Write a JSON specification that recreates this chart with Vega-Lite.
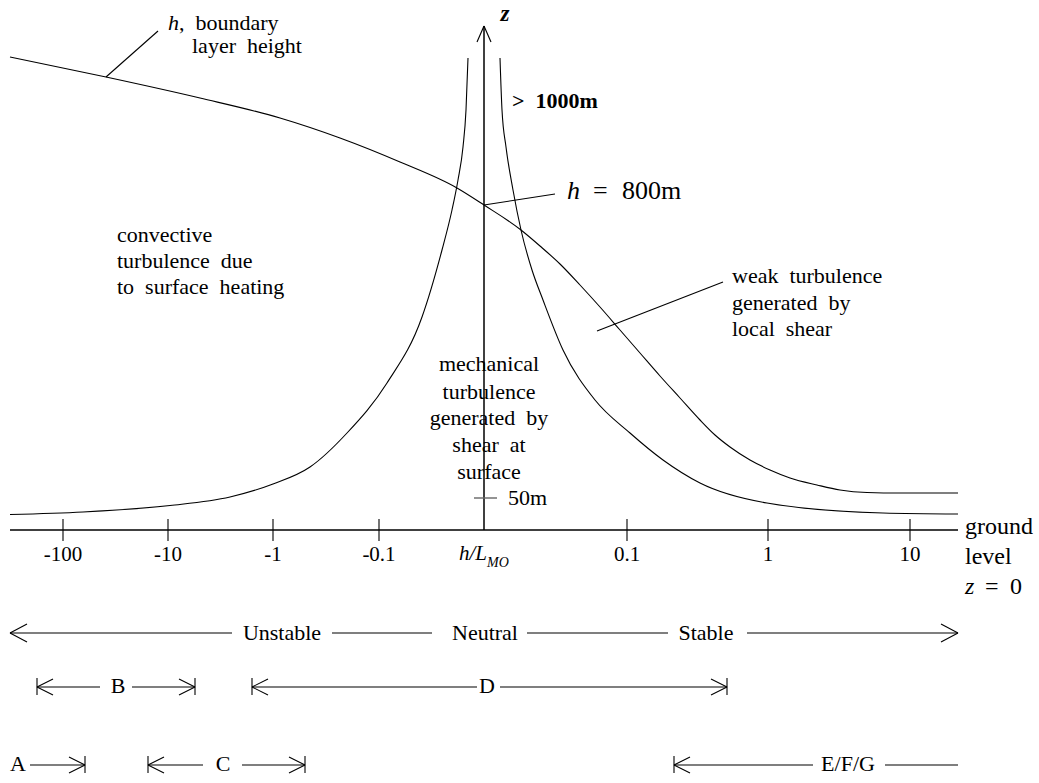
{
  "$schema": "https://vega.github.io/schema/vega-lite/v6.json",
  "width": 1039,
  "height": 783,
  "autosize": {"type": "fit", "contains": "padding"},
  "padding": 0,
  "background": "white",
  "config": {"view": {"stroke": null}},
  "datasets": {
    "curves": [
      {"id": "L", "o": 1, "x": 1.0, "y": 1.55},
      {"id": "L", "o": 2, "x": 8.3, "y": 1.8},
      {"id": "L", "o": 3, "x": 17.0, "y": 2.45},
      {"id": "L", "o": 4, "x": 23.0, "y": 3.3},
      {"id": "L", "o": 5, "x": 27.3, "y": 4.6},
      {"id": "L", "o": 6, "x": 31.0, "y": 6.3},
      {"id": "L", "o": 7, "x": 34.7, "y": 9.7},
      {"id": "L", "o": 8, "x": 38.7, "y": 14.7},
      {"id": "L", "o": 9, "x": 42.2, "y": 21.3},
      {"id": "L", "o": 10, "x": 44.2, "y": 28.0},
      {"id": "L", "o": 11, "x": 45.2, "y": 32.0},
      {"id": "L", "o": 12, "x": 45.8, "y": 35.0},
      {"id": "L", "o": 13, "x": 46.3, "y": 38.3},
      {"id": "L", "o": 14, "x": 46.6, "y": 42.0},
      {"id": "L", "o": 15, "x": 46.8, "y": 47.2},
      {"id": "R", "o": 1, "x": 50.0, "y": 47.2},
      {"id": "R", "o": 2, "x": 50.2, "y": 42.0},
      {"id": "R", "o": 3, "x": 50.6, "y": 38.3},
      {"id": "R", "o": 4, "x": 51.3, "y": 34.0},
      {"id": "R", "o": 5, "x": 52.1, "y": 30.0},
      {"id": "R", "o": 6, "x": 53.2, "y": 26.0},
      {"id": "R", "o": 7, "x": 54.3, "y": 23.0},
      {"id": "R", "o": 8, "x": 56.3, "y": 18.0},
      {"id": "R", "o": 9, "x": 59.5, "y": 13.0},
      {"id": "R", "o": 10, "x": 63.0, "y": 9.7},
      {"id": "R", "o": 11, "x": 66.3, "y": 7.0},
      {"id": "R", "o": 12, "x": 70.0, "y": 4.7},
      {"id": "R", "o": 13, "x": 76.7, "y": 2.7},
      {"id": "R", "o": 14, "x": 88.3, "y": 1.7},
      {"id": "R", "o": 15, "x": 95.8, "y": 1.6},
      {"id": "H", "o": 1, "x": 1.0, "y": 47.3},
      {"id": "H", "o": 2, "x": 10.6, "y": 45.3},
      {"id": "H", "o": 3, "x": 20.0, "y": 43.2},
      {"id": "H", "o": 4, "x": 28.0, "y": 41.2},
      {"id": "H", "o": 5, "x": 34.0, "y": 39.2},
      {"id": "H", "o": 6, "x": 40.0, "y": 36.8},
      {"id": "H", "o": 7, "x": 45.7, "y": 34.2},
      {"id": "H", "o": 8, "x": 48.4, "y": 32.5},
      {"id": "H", "o": 9, "x": 52.1, "y": 30.0},
      {"id": "H", "o": 10, "x": 54.0, "y": 28.4},
      {"id": "H", "o": 11, "x": 56.0, "y": 26.6},
      {"id": "H", "o": 12, "x": 58.0, "y": 24.5},
      {"id": "H", "o": 13, "x": 60.0, "y": 22.3},
      {"id": "H", "o": 14, "x": 62.0, "y": 20.0},
      {"id": "H", "o": 15, "x": 64.0, "y": 17.7},
      {"id": "H", "o": 16, "x": 66.0, "y": 15.4},
      {"id": "H", "o": 17, "x": 68.0, "y": 13.2},
      {"id": "H", "o": 18, "x": 70.0, "y": 11.0},
      {"id": "H", "o": 19, "x": 71.5, "y": 9.5},
      {"id": "H", "o": 20, "x": 73.0, "y": 8.3},
      {"id": "H", "o": 21, "x": 75.0, "y": 7.0},
      {"id": "H", "o": 22, "x": 77.0, "y": 6.0},
      {"id": "H", "o": 23, "x": 79.0, "y": 5.2},
      {"id": "H", "o": 24, "x": 81.7, "y": 4.5},
      {"id": "H", "o": 25, "x": 84.0, "y": 4.0},
      {"id": "H", "o": 26, "x": 86.7, "y": 3.75},
      {"id": "H", "o": 27, "x": 90.0, "y": 3.7},
      {"id": "H", "o": 28, "x": 95.8, "y": 3.7}
    ],
    "segs": [
      {"k": "ax", "x": 1.0, "y": 0, "x2": 95.8, "y2": 0},
      {"k": "ax", "x": 48.4, "y": 0, "x2": 48.4, "y2": 50.4},
      {"k": "ln", "x": 47.7, "y": 48.8, "x2": 48.4, "y2": 50.4},
      {"k": "ln", "x": 49.1, "y": 48.8, "x2": 48.4, "y2": 50.4},
      {"k": "ln", "x": 6.3, "y": 1.1, "x2": 6.3, "y2": -1.1},
      {"k": "ln", "x": 16.8, "y": 1.1, "x2": 16.8, "y2": -1.1},
      {"k": "ln", "x": 27.3, "y": 1.1, "x2": 27.3, "y2": -1.1},
      {"k": "ln", "x": 37.9, "y": 1.1, "x2": 37.9, "y2": -1.1},
      {"k": "ln", "x": 62.7, "y": 1.1, "x2": 62.7, "y2": -1.1},
      {"k": "ln", "x": 76.8, "y": 1.1, "x2": 76.8, "y2": -1.1},
      {"k": "ln", "x": 91.0, "y": 1.1, "x2": 91.0, "y2": -1.1},
      {"k": "ln", "x": 10.6, "y": 45.3, "x2": 15.8, "y2": 49.9},
      {"k": "ln", "x": 48.4, "y": 32.5, "x2": 55.5, "y2": 33.6},
      {"k": "ln", "x": 59.7, "y": 19.9, "x2": 72.3, "y2": 24.8},
      {"k": "gr", "x": 47.4, "y": 3.2, "x2": 49.7, "y2": 3.2},
      {"k": "ln", "x": 1.0, "y": -10.3, "x2": 23.2, "y2": -10.3},
      {"k": "ln", "x": 33.2, "y": -10.3, "x2": 43.2, "y2": -10.3},
      {"k": "ln", "x": 52.7, "y": -10.3, "x2": 66.8, "y2": -10.3},
      {"k": "ln", "x": 74.7, "y": -10.3, "x2": 95.8, "y2": -10.3},
      {"k": "ln", "x": 1.0, "y": -10.3, "x2": 2.7, "y2": -9.4},
      {"k": "ln", "x": 1.0, "y": -10.3, "x2": 2.7, "y2": -11.2},
      {"k": "ln", "x": 95.8, "y": -10.3, "x2": 94.1, "y2": -9.4},
      {"k": "ln", "x": 95.8, "y": -10.3, "x2": 94.1, "y2": -11.2},
      {"k": "ln", "x": 3.7, "y": -14.8, "x2": 3.7, "y2": -16.5},
      {"k": "ln", "x": 3.7, "y": -15.7, "x2": 10.0, "y2": -15.7},
      {"k": "ln", "x": 3.7, "y": -15.7, "x2": 5.3, "y2": -14.9},
      {"k": "ln", "x": 3.7, "y": -15.7, "x2": 5.3, "y2": -16.5},
      {"k": "ln", "x": 13.2, "y": -15.7, "x2": 19.5, "y2": -15.7},
      {"k": "ln", "x": 19.5, "y": -15.7, "x2": 17.9, "y2": -14.9},
      {"k": "ln", "x": 19.5, "y": -15.7, "x2": 17.9, "y2": -16.5},
      {"k": "ln", "x": 19.5, "y": -14.8, "x2": 19.5, "y2": -16.5},
      {"k": "ln", "x": 25.2, "y": -14.8, "x2": 25.2, "y2": -16.5},
      {"k": "ln", "x": 25.2, "y": -15.7, "x2": 47.7, "y2": -15.7},
      {"k": "ln", "x": 25.2, "y": -15.7, "x2": 26.8, "y2": -14.9},
      {"k": "ln", "x": 25.2, "y": -15.7, "x2": 26.8, "y2": -16.5},
      {"k": "ln", "x": 50.0, "y": -15.7, "x2": 72.7, "y2": -15.7},
      {"k": "ln", "x": 72.7, "y": -15.7, "x2": 71.1, "y2": -14.9},
      {"k": "ln", "x": 72.7, "y": -15.7, "x2": 71.1, "y2": -16.5},
      {"k": "ln", "x": 72.7, "y": -14.8, "x2": 72.7, "y2": -16.5},
      {"k": "ln", "x": 3.0, "y": -23.5, "x2": 8.5, "y2": -23.5},
      {"k": "ln", "x": 8.5, "y": -23.5, "x2": 6.9, "y2": -22.7},
      {"k": "ln", "x": 8.5, "y": -23.5, "x2": 6.9, "y2": -24.3},
      {"k": "ln", "x": 8.5, "y": -22.6, "x2": 8.5, "y2": -24.3},
      {"k": "ln", "x": 14.8, "y": -22.6, "x2": 14.8, "y2": -24.3},
      {"k": "ln", "x": 14.8, "y": -23.5, "x2": 20.3, "y2": -23.5},
      {"k": "ln", "x": 14.8, "y": -23.5, "x2": 16.4, "y2": -22.7},
      {"k": "ln", "x": 14.8, "y": -23.5, "x2": 16.4, "y2": -24.3},
      {"k": "ln", "x": 24.2, "y": -23.5, "x2": 30.5, "y2": -23.5},
      {"k": "ln", "x": 30.5, "y": -23.5, "x2": 28.9, "y2": -22.7},
      {"k": "ln", "x": 30.5, "y": -23.5, "x2": 28.9, "y2": -24.3},
      {"k": "ln", "x": 30.5, "y": -22.6, "x2": 30.5, "y2": -24.3},
      {"k": "ln", "x": 67.4, "y": -22.6, "x2": 67.4, "y2": -24.3},
      {"k": "ln", "x": 67.4, "y": -23.5, "x2": 81.3, "y2": -23.5},
      {"k": "ln", "x": 67.4, "y": -23.5, "x2": 69.0, "y2": -22.7},
      {"k": "ln", "x": 67.4, "y": -23.5, "x2": 69.0, "y2": -24.3},
      {"k": "ln", "x": 88.5, "y": -23.5, "x2": 95.8, "y2": -23.5}
    ],
    "labels": [
      {"r": "noteI", "t": "h", "x": 16.8, "y": 50.7},
      {"r": "note", "t": ",\u00a0\u00a0boundary", "x": 17.9, "y": 50.7},
      {"r": "note", "t": "layer\u00a0\u00a0height", "x": 19.2, "y": 48.4},
      {"r": "note", "t": "convective", "x": 11.7, "y": 29.5},
      {"r": "note", "t": "turbulence\u00a0\u00a0due", "x": 11.7, "y": 26.9},
      {"r": "note", "t": "to\u00a0\u00a0surface\u00a0\u00a0heating", "x": 11.7, "y": 24.3},
      {"r": "note", "t": "weak\u00a0\u00a0turbulence", "x": 73.2, "y": 25.4},
      {"r": "note", "t": "generated\u00a0\u00a0by", "x": 73.2, "y": 22.7},
      {"r": "note", "t": "local\u00a0\u00a0shear", "x": 73.2, "y": 20.1},
      {"r": "note", "t": "50m", "x": 50.8, "y": 3.2},
      {"r": "mid", "t": "mechanical", "x": 48.9, "y": 16.6},
      {"r": "mid", "t": "turbulence", "x": 48.9, "y": 13.8},
      {"r": "mid", "t": "generated\u00a0\u00a0by", "x": 48.9, "y": 11.2},
      {"r": "mid", "t": "shear\u00a0\u00a0at", "x": 48.9, "y": 8.5},
      {"r": "mid", "t": "surface", "x": 48.9, "y": 5.8},
      {"r": "mid", "t": "Unstable", "x": 28.2, "y": -10.3},
      {"r": "mid", "t": "Neutral", "x": 48.5, "y": -10.3},
      {"r": "mid", "t": "Stable", "x": 70.6, "y": -10.3},
      {"r": "mid", "t": "B", "x": 11.8, "y": -15.6},
      {"r": "mid", "t": "D", "x": 48.7, "y": -15.6},
      {"r": "mid", "t": "A", "x": 1.8, "y": -23.4},
      {"r": "mid", "t": "C", "x": 22.3, "y": -23.4},
      {"r": "mid", "t": "E/F/G", "x": 84.8, "y": -23.4},
      {"r": "tick", "t": "-100", "x": 6.3, "y": -2.5},
      {"r": "tick", "t": "-10", "x": 16.8, "y": -2.5},
      {"r": "tick", "t": "-1", "x": 27.3, "y": -2.5},
      {"r": "tick", "t": "-0.1", "x": 37.9, "y": -2.5},
      {"r": "tick", "t": "0.1", "x": 62.7, "y": -2.5},
      {"r": "tick", "t": "1", "x": 76.8, "y": -2.5},
      {"r": "tick", "t": "10", "x": 91.0, "y": -2.5},
      {"r": "hL", "t": "h/L", "x": 48.7, "y": -2.4},
      {"r": "sub", "t": "MO", "x": 48.7, "y": -3.3},
      {"r": "ground", "t": "ground", "x": 96.5, "y": 0.3},
      {"r": "ground", "t": "level", "x": 96.5, "y": -2.7},
      {"r": "groundI", "t": "z", "x": 96.5, "y": -5.7},
      {"r": "ground", "t": "=", "x": 98.5, "y": -5.7},
      {"r": "ground", "t": "0", "x": 101.0, "y": -5.7},
      {"r": "zAxis", "t": "z", "x": 50.5, "y": 51.6},
      {"r": "big", "t": ">\u00a0\u00a01000m", "x": 51.2, "y": 42.9},
      {"r": "hvalI", "t": "h", "x": 56.7, "y": 33.9},
      {"r": "hval", "t": "=", "x": 59.3, "y": 33.9},
      {"r": "hval", "t": "800m", "x": 62.2, "y": 33.9}
    ]
  },
  "encoding": {
    "x": {"field": "x", "type": "quantitative", "scale": {"domain": [0, 103.9], "nice": false, "zero": false}, "axis": null},
    "y": {"field": "y", "type": "quantitative", "scale": {"domain": [-25.3, 53], "nice": false, "zero": false}, "axis": null}
  },
  "layer": [
    {
      "data": {"name": "curves"},
      "mark": {"type": "line", "interpolate": "monotone", "color": "black", "strokeWidth": 1.1},
      "encoding": {"detail": {"field": "id"}, "order": {"field": "o", "type": "quantitative"}}
    },
    {
      "data": {"name": "segs"},
      "transform": [{"filter": "datum.k === 'ln'"}],
      "mark": {"type": "rule", "color": "black", "strokeWidth": 1.1},
      "encoding": {"x2": {"field": "x2"}, "y2": {"field": "y2"}}
    },
    {
      "data": {"name": "segs"},
      "transform": [{"filter": "datum.k === 'ax'"}],
      "mark": {"type": "rule", "color": "black", "strokeWidth": 1.5},
      "encoding": {"x2": {"field": "x2"}, "y2": {"field": "y2"}}
    },
    {
      "data": {"name": "segs"},
      "transform": [{"filter": "datum.k === 'gr'"}],
      "mark": {"type": "rule", "color": "#666666", "strokeWidth": 1.4},
      "encoding": {"x2": {"field": "x2"}, "y2": {"field": "y2"}}
    },
    {
      "data": {"name": "labels"},
      "transform": [{"filter": "datum.r === 'note'"}],
      "mark": {"type": "text", "font": "Liberation Serif", "fontSize": 22, "align": "left", "baseline": "middle", "color": "black"},
      "encoding": {"text": {"field": "t"}}
    },
    {
      "data": {"name": "labels"},
      "transform": [{"filter": "datum.r === 'noteI'"}],
      "mark": {"type": "text", "font": "Liberation Serif", "fontSize": 22, "fontStyle": "italic", "align": "left", "baseline": "middle", "color": "black"},
      "encoding": {"text": {"field": "t"}}
    },
    {
      "data": {"name": "labels"},
      "transform": [{"filter": "datum.r === 'mid'"}],
      "mark": {"type": "text", "font": "Liberation Serif", "fontSize": 22, "align": "center", "baseline": "middle", "color": "black"},
      "encoding": {"text": {"field": "t"}}
    },
    {
      "data": {"name": "labels"},
      "transform": [{"filter": "datum.r === 'tick'"}],
      "mark": {"type": "text", "font": "Liberation Serif", "fontSize": 21, "align": "center", "baseline": "middle", "color": "black"},
      "encoding": {"text": {"field": "t"}}
    },
    {
      "data": {"name": "labels"},
      "transform": [{"filter": "datum.r === 'hL'"}],
      "mark": {"type": "text", "font": "Liberation Serif", "fontSize": 21, "fontStyle": "italic", "align": "right", "baseline": "middle", "color": "black"},
      "encoding": {"text": {"field": "t"}}
    },
    {
      "data": {"name": "labels"},
      "transform": [{"filter": "datum.r === 'sub'"}],
      "mark": {"type": "text", "font": "Liberation Serif", "fontSize": 14, "fontStyle": "italic", "align": "left", "baseline": "middle", "color": "black"},
      "encoding": {"text": {"field": "t"}}
    },
    {
      "data": {"name": "labels"},
      "transform": [{"filter": "datum.r === 'ground'"}],
      "mark": {"type": "text", "font": "Liberation Serif", "fontSize": 24, "align": "left", "baseline": "middle", "color": "black"},
      "encoding": {"text": {"field": "t"}}
    },
    {
      "data": {"name": "labels"},
      "transform": [{"filter": "datum.r === 'groundI'"}],
      "mark": {"type": "text", "font": "Liberation Serif", "fontSize": 24, "fontStyle": "italic", "align": "left", "baseline": "middle", "color": "black"},
      "encoding": {"text": {"field": "t"}}
    },
    {
      "data": {"name": "labels"},
      "transform": [{"filter": "datum.r === 'zAxis'"}],
      "mark": {"type": "text", "font": "Liberation Serif", "fontSize": 23, "fontStyle": "italic", "fontWeight": "bold", "align": "center", "baseline": "middle", "color": "black"},
      "encoding": {"text": {"field": "t"}}
    },
    {
      "data": {"name": "labels"},
      "transform": [{"filter": "datum.r === 'big'"}],
      "mark": {"type": "text", "font": "Liberation Serif", "fontSize": 22, "fontWeight": "bold", "align": "left", "baseline": "middle", "color": "black"},
      "encoding": {"text": {"field": "t"}}
    },
    {
      "data": {"name": "labels"},
      "transform": [{"filter": "datum.r === 'hval'"}],
      "mark": {"type": "text", "font": "Liberation Serif", "fontSize": 26, "align": "left", "baseline": "middle", "color": "black"},
      "encoding": {"text": {"field": "t"}}
    },
    {
      "data": {"name": "labels"},
      "transform": [{"filter": "datum.r === 'hvalI'"}],
      "mark": {"type": "text", "font": "Liberation Serif", "fontSize": 26, "fontStyle": "italic", "align": "left", "baseline": "middle", "color": "black"},
      "encoding": {"text": {"field": "t"}}
    }
  ]
}
